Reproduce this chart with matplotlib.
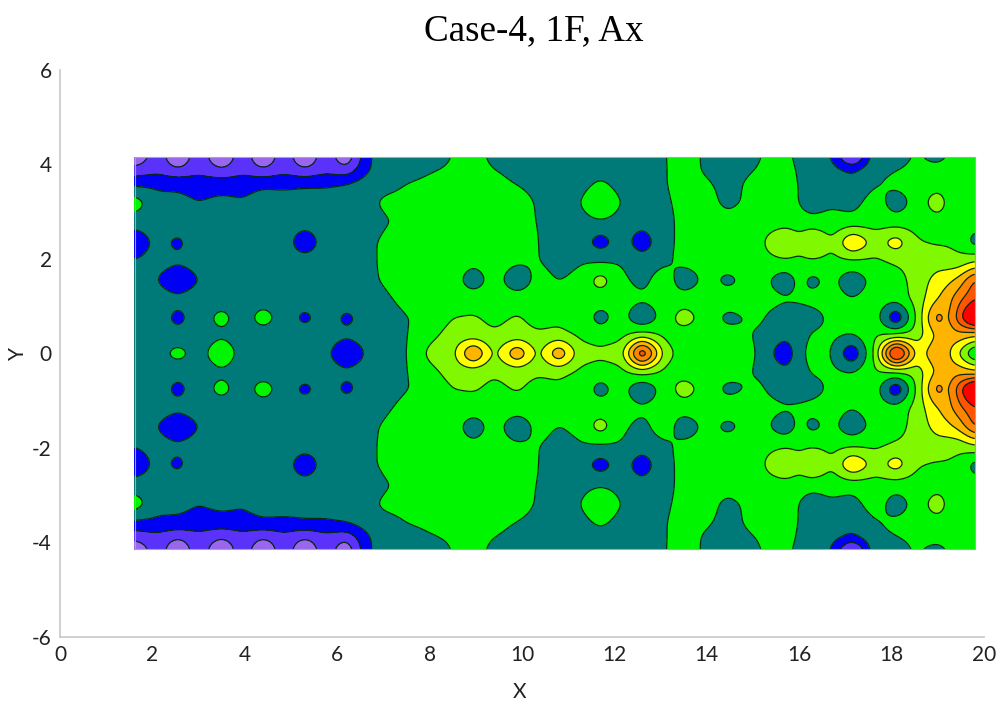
import numpy as np
import matplotlib
matplotlib.use("Agg")
import matplotlib.pyplot as plt

# upper half only (the field is mirrored about y=0)
x_pos = [1.62, 2.1, 2.55, 3.0, 3.5, 3.95, 4.4, 4.85, 5.3, 5.75, 6.2, 6.7, 7.1, 7.5,
         8.0, 8.5, 8.95, 9.4, 9.9, 10.35, 10.8, 11.25, 11.7, 12.15, 12.6, 13.1, 13.5, 14.0,
         14.45, 15.1, 15.7, 16.0, 16.28, 16.7, 17.15, 17.65, 18.1, 18.55, 19.0, 19.2, 19.45, 19.8]
y_pos = [0, 0.4, 0.75, 1.15, 1.55, 1.95, 2.35, 2.8, 3.2, 3.6, 3.9, 4.15]

row_000 = [3.5, 3.6, 4.45, 3.6, 4.8, 3.6, 3.6, 3.6, 3.6, 3.2, 2.2, 3.2, 3.6, 3.95,
           5.3, 5.7, 8.6, 5.7, 8.2, 5.7, 8.2, 5.5, 5.3, 5.6, 10.8, 5.5, 4.5, 4.5,
           4.5, 4.0, 2.1, 3.7, 4.4, 4.02, 1.8, 5.3, 12.0, 6.5, 7.9, 7.3, 5.9, 3.5]
row_040 = [3.5, 3.5, 3.3, 3.5, 3.8, 3.5, 3.5, 3.5, 3.5, 3.4, 3.2, 3.4, 3.6, 3.95,
           4.7, 5.4, 5.3, 5.1, 5.3, 5.1, 5.2, 4.8, 4.4, 4.7, 5.3, 4.7, 4.5, 4.5,
           4.4, 3.9, 3.3, 3.6, 4.1, 4.2, 4.05, 4.9, 4.9, 5.4, 7.2, 7.5, 7.7, 7.3]
row_075 = [3.5, 3.5, 2.65, 3.5, 4.4, 3.5, 4.55, 3.5, 2.65, 3.5, 2.7, 3.5, 3.6, 3.95,
           4.3, 5.0, 5.1, 4.8, 5.1, 4.7, 4.8, 4.5, 3.6, 4.4, 3.0, 4.5, 5.6, 4.5,
           3.7, 4.2, 3.4, 3.5, 3.6, 4.2, 4.5, 4.5, 1.7, 5.2, 8.8, 7.5, 9.6, 12.5]
row_115 = [3.5, 3.5, 3.3, 3.5, 3.5, 3.5, 3.5, 3.5, 3.5, 3.5, 3.5, 3.5, 3.9, 4.3,
           4.6, 4.6, 4.6, 4.6, 4.6, 4.6, 4.5, 4.5, 4.4, 4.4, 4.2, 4.4, 4.5, 4.5,
           4.5, 4.4, 4.15, 4.15, 4.3, 4.4, 4.05, 4.5, 4.4, 5.4, 7.0, 7.5, 8.7, 9.9]
row_155 = [3.5, 3.0, 2.1, 3.0, 3.5, 3.5, 3.5, 3.5, 3.5, 3.5, 3.5, 3.8, 4.2, 4.5,
           4.6, 4.5, 3.3, 4.5, 3.1, 4.4, 3.95, 4.3, 5.6, 4.2, 3.7, 4.6, 3.3, 4.3,
           3.7, 4.5, 3.3, 4.3, 3.65, 4.3, 3.2, 4.4, 4.7, 5.3, 6.5, 6.7, 7.3, 9.2]
row_195 = [3.1, 3.4, 3.2, 3.4, 3.5, 3.5, 3.5, 3.5, 3.5, 3.5, 3.5, 3.8, 4.3, 4.5,
           4.6, 4.5, 4.3, 4.5, 4.2, 4.05, 3.6, 3.9, 3.9, 3.9, 3.5, 3.8, 4.3, 4.4,
           4.5, 4.6, 4.8, 4.7, 4.8, 4.7, 4.8, 4.8, 5.1, 5.2, 5.5, 5.4, 5.3, 5.9]
row_235 = [2.2, 3.3, 2.75, 3.5, 3.5, 3.5, 4.2, 3.5, 2.2, 3.5, 3.5, 3.8, 4.3, 4.5,
           4.6, 4.6, 4.6, 4.5, 4.4, 4.1, 2.75, 3.5, 2.4, 3.5, 2.3, 3.8, 4.2, 4.5,
           4.6, 4.6, 6.4, 5.5, 6.55, 5.1, 7.3, 5.6, 6.7, 5.1, 4.9, 4.9, 4.7, 3.5]
row_280 = [3.5, 3.5, 3.5, 3.5, 3.5, 3.5, 3.5, 3.5, 3.5, 3.5, 3.5, 3.5, 3.95, 4.2,
           4.5, 4.5, 4.5, 4.5, 4.4, 3.95, 3.5, 3.6, 3.9, 3.6, 3.4, 3.7, 4.3, 4.5,
           4.4, 4.5, 4.4, 4.3, 4.2, 4.3, 4.3, 4.5, 4.4, 4.5, 4.6, 4.6, 4.6, 4.5]
row_320 = [4.6, 3.3, 3.3, 3.0, 3.25, 3.1, 3.5, 3.45, 3.5, 3.5, 3.5, 3.8, 4.3, 4.4,
           4.5, 4.5, 4.5, 4.5, 4.4, 3.9, 3.5, 3.95, 5.4, 3.95, 3.5, 3.85, 4.3, 4.4,
           3.7, 4.4, 4.5, 3.95, 3.6, 3.85, 3.65, 4.5, 3.4, 4.4, 5.7, 4.8, 4.5, 4.5]
row_360 = [2.7, 2.8, 2.75, 2.6, 2.6, 2.6, 2.8, 2.75, 2.85, 2.85, 3.05, 3.5, 3.6, 4.0,
           4.2, 4.4, 4.4, 4.2, 3.95, 3.7, 3.5, 3.5, 4.2, 3.5, 3.5, 3.95, 4.4, 4.1,
           3.7, 4.3, 4.4, 3.95, 3.6, 3.5, 3.2, 3.9, 4.3, 4.5, 4.5, 4.5, 4.5, 4.5]
row_390 = [1.3, 1.6, 1.0, 1.6, 1.0, 1.6, 1.0, 1.6, 1.0, 1.6, 1.2, 3.02, 3.4, 3.6,
           3.9, 4.1, 4.3, 4.0, 3.8, 3.6, 3.5, 3.5, 3.5, 3.5, 3.5, 3.95, 4.4, 3.85,
           3.6, 4.02, 4.4, 3.85, 3.6, 3.3, 2.9, 3.7, 3.95, 4.2, 4.3, 4.4, 4.5, 4.5]
row_415 = [0.1, 1.6, 0.1, 1.6, 0.1, 1.6, 0.1, 1.6, 0.1, 1.6, 0.2, 3.02, 3.5, 3.5,
           3.7, 4.02, 4.3, 3.8, 3.6, 3.5, 3.5, 3.5, 3.5, 3.5, 3.5, 3.95, 4.5, 3.8,
           3.6, 3.95, 4.3, 3.7, 3.6, 3.02, 0.2, 3.8, 3.7, 4.1, 3.7, 4.02, 4.3, 4.4]

levels = [-5, 1, 2, 3, 4, 5, 6, 7, 8, 9, 10, 30]
band_colors = ["#9a66f0", "#5a32fa", "#0000f5", "#007a78", "#00f500", "#80f800",
               "#ffff00", "#ffb400", "#ff8400", "#ff5400", "#ff0000"]
x_ticks = list(range(0, 21, 2))
y_ticks = list(range(-6, 7, 2))

upper = np.array([row_000, row_040, row_075, row_115, row_155, row_195,
                  row_235, row_280, row_320, row_360, row_390, row_415])
Z = np.vstack((upper[:0:-1], upper))
X = np.array(x_pos)
Y = np.concatenate((-np.array(y_pos[:0:-1]), np.array(y_pos)))


def rounded_field(x, y, z, step=0.02, sigma=0.09):
    # only rounds the corners of the contour lines, the values stay the read ones
    fx = np.arange(x[0], x[-1] + step / 2, step)
    fy = np.arange(y[0], y[-1] + step / 2, step)
    by_row = np.array([np.interp(fx, x, row) for row in z])
    fine = np.array([np.interp(fy, y, col) for col in by_row.T]).T
    half = int(3 * sigma / step)
    kernel = np.exp(-0.5 * (np.arange(-half, half + 1) * step / sigma) ** 2)
    kernel = kernel / kernel.sum()
    fine = np.pad(fine, half, mode="edge")
    fine = np.apply_along_axis(np.convolve, 0, fine, kernel, mode="same")
    fine = np.apply_along_axis(np.convolve, 1, fine, kernel, mode="same")
    return fx, fy, fine[half:-half, half:-half]


plt.rcParams['font.family'] = ['Lato', 'DejaVu Sans']
plt.rcParams['axes.unicode_minus'] = False
fig = plt.figure(figsize=(9.99, 7.04), dpi=100)
ax = fig.add_axes([60 / 999, 1 - 636.7 / 704, 924 / 999, 566.7 / 704])

fx, fy, fz = rounded_field(X, Y, Z)
ax.contourf(fx, fy, fz, levels=levels, colors=band_colors)
ax.contour(fx, fy, fz, levels=levels[1:-1], colors="#0a2a10", linewidths=0.9)
ax.plot([X[0], X[-1], X[-1], X[0], X[0]], [Y[0], Y[0], Y[-1], Y[-1], Y[0]],
        color="#a8a8a8", lw=0.8)

ax.set_xlim(0, 20)
ax.set_ylim(-6, 6)
ax.set_xticks(x_ticks)
ax.set_yticks(y_ticks)
ax.tick_params(length=0, labelsize=15, pad=6, colors="#222222")
for side in ["top", "right"]:
    ax.spines[side].set_visible(False)
for side in ["left", "bottom"]:
    ax.spines[side].set_color("#c8c8c8")
    ax.spines[side].set_linewidth(1.2)

fig.text(520 / 999, 1 - 692 / 704, "X", fontsize=15, color="#222222", ha="center", va="center")
fig.text(18 / 999, 1 - 353 / 704, "Y", fontsize=15, color="#222222", ha="center", va="center",
         rotation=90)
fig.text(534 / 999, 1 - 31 / 704, "Case-4, 1F, Ax", family="Liberation Serif",
         fontsize=26.7, ha="center", va="center", color="black")

plt.savefig("out.png", dpi=100)
